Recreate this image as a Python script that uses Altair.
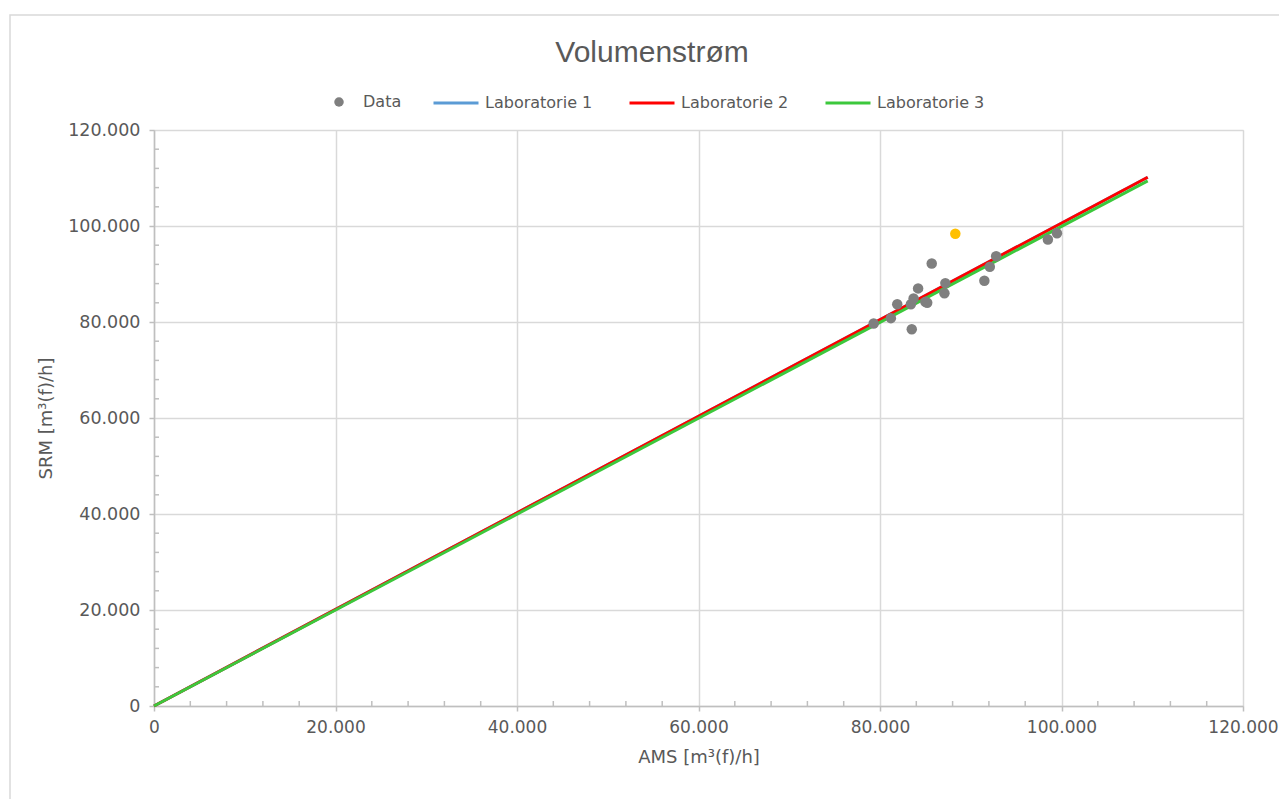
import altair as alt
import pandas as pd

# ---- data ----
data_x = [79.3, 81.2, 81.9, 83.4, 83.5, 83.7, 84.2, 85.0, 85.2, 85.7, 87.1, 87.2, 91.5, 92.1, 92.8, 98.5, 99.5]
data_y = [79.7, 80.8, 83.7, 83.7, 78.5, 84.9, 87.0, 84.2, 84.0, 92.2, 86.0, 88.1, 88.6, 91.5, 93.7, 97.2, 98.5]
highlight_x = [88.3]
highlight_y = [98.4]

lab_names = ["Laboratorie 1", "Laboratorie 2", "Laboratorie 3"]
lab_x = [[0, 109.5], [0, 109.5], [0, 109.5]]
lab_y = [[0, 110.15], [0, 110.15], [0, 109.4]]
lab_colors = ["#5B9BD5", "#FF0000", "#3CC83C"]

title_text = ["Volumenstrøm"]

major_ticks = [0, 20000, 40000, 60000, 80000, 100000, 120000]
minor_ticks = [v for v in range(4000, 120000, 4000) if v % 20000 != 0]

# ---- tables ----
pts = pd.DataFrame({"x": [v * 1000 for v in data_x], "y": [v * 1000 for v in data_y], "series": "Data"})
hl = pd.DataFrame({"x": [v * 1000 for v in highlight_x], "y": [v * 1000 for v in highlight_y]})
rows = []
for name, xs, ys in zip(lab_names, lab_x, lab_y):
    for i, (a, b) in enumerate(zip(xs, ys)):
        rows.append({"series": name, "x": a * 1000, "y": b * 1000, "order": i})
lines = pd.DataFrame(rows)
minor_df = pd.DataFrame({"v": minor_ticks})

TXT = "#595959"
GRID = "#D9D9D9"
AXIS = "#BFBFBF"
FONT = "DejaVu Sans"
W, H = 1089, 576

xscale = alt.Scale(domain=[0, 120000], nice=False, zero=True)
yscale = alt.Scale(domain=[0, 120000], nice=False, zero=True)
label_expr = "replace(format(datum.value, ','), ',', '.')"

xaxis = alt.Axis(
    title="AMS [m³(f)/h]", values=major_ticks, labelExpr=label_expr,
    grid=True, gridColor=GRID, gridWidth=1.5,
    domainColor=AXIS, domainWidth=1.5, tickColor=AXIS, tickWidth=1.5, tickSize=5,
    labelFont=FONT, labelFontSize=17, labelColor=TXT, labelPadding=8,
    labelFlush=False, labelOverlap=False,
    titleFont=FONT, titleFontSize=18, titleFontWeight="normal", titleColor=TXT, titlePadding=13,
)
yaxis = alt.Axis(
    title="SRM [m³(f)/h]", values=major_ticks, labelExpr=label_expr,
    grid=True, gridColor=GRID, gridWidth=1.5,
    domainColor=AXIS, domainWidth=1.5, tickColor=AXIS, tickWidth=1.5, tickSize=5,
    labelFont=FONT, labelFontSize=17.5, labelColor=TXT, labelPadding=9,
    labelFlush=False, labelOverlap=False,
    titleFont=FONT, titleFontSize=18, titleFontWeight="normal", titleColor=TXT, titlePadding=12,
)

frame = alt.Chart(pd.DataFrame({"a": [0]})).mark_rect(
    fill=None, stroke=GRID, strokeWidth=1.5
).encode(
    x=alt.value(-144), x2=alt.value(W + 200), y=alt.value(-115), y2=alt.value(H + 200)
)

title_layer = alt.Chart(pd.DataFrame({"t": title_text})).mark_text(
    font="Liberation Sans", fontSize=30, color=TXT, align="center", baseline="alphabetic"
).encode(text="t:N", x=alt.value(498), y=alt.value(-68))

line_layer = alt.Chart(lines).mark_line(strokeWidth=3).encode(
    x=alt.X("x:Q", scale=xscale, axis=xaxis),
    y=alt.Y("y:Q", scale=yscale, axis=yaxis),
    order="order:O",
    color=alt.Color(
        "series:N",
        scale=alt.Scale(domain=lab_names, range=lab_colors),
        legend=alt.Legend(
            title=None, orient="none", direction="horizontal", legendX=278, legendY=-51,
            symbolType="stroke", symbolSize=2025, symbolStrokeWidth=3,
            labelFont=FONT, labelFontSize=16, labelColor=TXT, labelOffset=5,
            columnPadding=30, padding=0,
        ),
    ),
)

minor_x = alt.Chart(minor_df).mark_rule(color=AXIS, strokeWidth=1.5).encode(
    x=alt.X("v:Q", scale=xscale), y=alt.value(H), y2=alt.value(H - 5)
)
minor_y = alt.Chart(minor_df).mark_rule(color=AXIS, strokeWidth=1.5).encode(
    y=alt.Y("v:Q", scale=yscale), x=alt.value(0), x2=alt.value(5)
)

point_layer = alt.Chart(pts).mark_circle(size=110, opacity=1).encode(
    x=alt.X("x:Q", scale=xscale),
    y=alt.Y("y:Q", scale=yscale),
    color=alt.Color(
        "series:N",
        scale=alt.Scale(domain=["Data"], range=["#7F7F7F"]),
        legend=alt.Legend(
            title=None, orient="none", direction="horizontal", legendX=177, legendY=-36,
            symbolType="circle", symbolSize=90,
            labelFont=FONT, labelFontSize=16, labelColor=TXT, labelOffset=16, padding=0,
        ),
    ),
)

hl_layer = alt.Chart(hl).mark_circle(size=110, opacity=1, color="#FFC000").encode(
    x=alt.X("x:Q", scale=xscale),
    y=alt.Y("y:Q", scale=yscale),
)

chart = alt.layer(
    frame, title_layer, minor_x, minor_y, line_layer, point_layer, hl_layer
).resolve_scale(color="independent").properties(
    width=W, height=H,
    autosize=alt.AutoSizeParams(type="none"),
    padding={"left": 154, "top": 130, "right": 36, "bottom": 93},
).configure_view(stroke=None).configure(background="white")

chart.save("out.html", embed_options={"renderer": "svg", "actions": False})
